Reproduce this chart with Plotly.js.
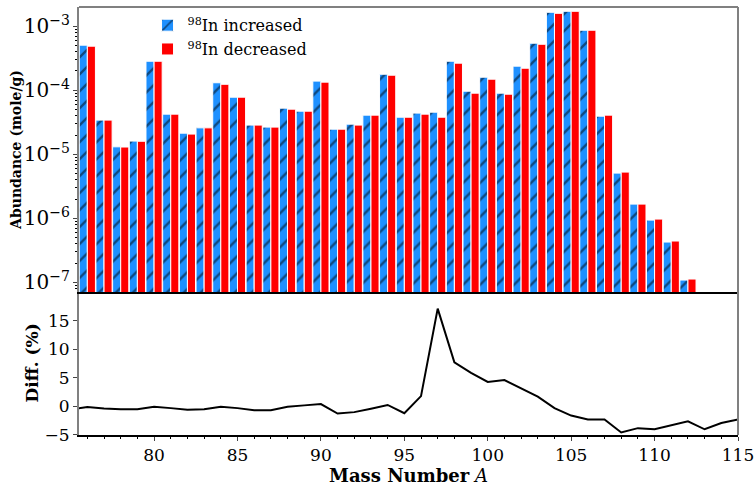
<!DOCTYPE html>
<html>
<head>
<meta charset="utf-8">
<script src="https://cdn.plot.ly/plotly-3.0.1.min.js"></script>
<style>html,body{margin:0;padding:0;background:#fff;}#chart{width:756px;height:488px;}</style>
</head>
<body>
<div id="chart"></div>
<script>
// Mass numbers for the bar pairs
const massNumbers = [76,77,78,79,80,81,82,83,84,85,86,87,88,89,90,91,92,93,94,95,96,97,98,99,100,101,102,103,104,105,106,107,108,109,110,111,112];
// Abundance (mole/g) with 98In increased
const abundIncreased = [5.06e-4,3.42e-5,1.31e-5,1.61e-5,2.84e-4,4.24e-5,2.14e-5,2.59e-5,1.31e-4,7.8e-5,2.86e-5,2.66e-5,5.26e-5,4.72e-5,1.39e-4,2.47e-5,2.96e-5,4.09e-5,1.78e-4,3.8e-5,4.4e-5,4.55e-5,2.84e-4,9.68e-5,1.60e-4,9.01e-5,2.38e-4,5.43e-4,1.65e-3,1.71e-3,8.66e-4,3.94e-5,5.09e-6,1.67e-6,9.4e-7,4.27e-7,1.09e-7];
// Abundance (mole/g) with 98In decreased
const abundDecreased = [4.88e-4,3.42e-5,1.30e-5,1.60e-5,2.84e-4,4.24e-5,2.07e-5,2.59e-5,1.24e-4,7.8e-5,2.86e-5,2.66e-5,5.07e-5,4.72e-5,1.34e-4,2.47e-5,2.86e-5,4.09e-5,1.72e-4,3.8e-5,4.24e-5,3.8e-5,2.65e-4,9.01e-5,1.49e-4,8.69e-5,2.21e-4,5.23e-4,1.59e-3,1.71e-3,8.66e-4,4.09e-5,5.28e-6,1.67e-6,9.75e-7,4.43e-7,1.13e-7];
// Relative difference (%)
const diffMass = [75,76,77,78,79,80,81,82,83,84,85,86,87,88,89,90,91,92,93,94,95,96,97,98,99,100,101,102,103,104,105,106,107,108,109,110,111,112,113,114,115];
const diffPct = [-0.55,-0.12,-0.35,-0.5,-0.5,-0.05,-0.3,-0.6,-0.5,-0.05,-0.3,-0.65,-0.65,-0.05,0.18,0.4,-1.25,-1.0,-0.4,0.25,-1.2,1.8,17.1,7.7,5.85,4.27,4.6,3.2,1.7,-0.3,-1.6,-2.3,-2.3,-4.55,-3.8,-4.0,-3.3,-2.6,-4.0,-2.9,-2.3];
// Labels
const seriesNames = ['<sup>98</sup>In increased', '<sup>98</sup>In decreased'];
const yTitleTop = '<b>Abundance (mole/g)</b>';
const yTitleBottom = '<b>Diff. (%)</b>';
const xTitle = '<b>Mass Number</b> <i>A</i>';

const FONT = 'DejaVu Serif';
const traces = [
  {type:'bar', x:massNumbers, y:abundIncreased, xaxis:'x2', yaxis:'y2',
   name:seriesNames[0],
   marker:{color:'#1e90ff', line:{color:'white', width:1},
           pattern:{shape:'/', fgcolor:'black', bgcolor:'#1e90ff', size:12, solidity:0.2, fillmode:'overlay'}}},
  {type:'bar', x:massNumbers, y:abundDecreased, xaxis:'x2', yaxis:'y2',
   name:seriesNames[1],
   marker:{color:'#ff0000', line:{color:'white', width:1}}},
  {type:'scatter', mode:'lines', x:diffMass, y:diffPct, xaxis:'x', yaxis:'y',
   line:{color:'black', width:2}, showlegend:false}
];

const split = 0.334;
const layout = {
  width:756, height:488,
  margin:{l:79, r:18, t:7, b:53},
  paper_bgcolor:'white', plot_bgcolor:'white',
  font:{family:FONT, color:'black', size:17},
  barmode:'group', bargap:0.03, bargroupgap:0,
  showlegend:true,
  legend:{x:0.104, y:0.997, xanchor:'left', yanchor:'top', bgcolor:'rgba(0,0,0,0)',
          font:{family:FONT, size:16}, tracegroupgap:0},
  xaxis:{domain:[0,1], anchor:'y', range:[75.5,115], tick0:80, dtick:5,
         showline:true, linecolor:'black', linewidth:1.5, ticks:'outside', ticklen:4,
         minor:{dtick:1, ticks:'outside', ticklen:2.5, tickcolor:'black'},
         showgrid:false, zeroline:false, tickfont:{size:17},
         title:{text:xTitle, font:{size:18}, standoff:4}},
  yaxis:{domain:[0,split], anchor:'x', range:[-5,20], tickvals:[-5,0,5,10,15],
         ticktext:['\u22125','0','5','10','15'],
         showline:true, linecolor:'#808080', linewidth:2, ticks:'outside', ticklen:4,
         showgrid:false, zeroline:false, tickfont:{size:17}},
  xaxis2:{domain:[0,1], anchor:'y2', matches:'x', range:[75.5,115],
          showticklabels:false, ticks:'', showgrid:false, zeroline:false,
          showline:true, linecolor:'black', linewidth:1.5},
  yaxis2:{domain:[split,1], anchor:'x2', type:'log', range:[-7.15,-2.70],
          dtick:1, exponentformat:'power', showexponent:'all',
          showline:true, linecolor:'#808080', linewidth:2, ticks:'outside', ticklen:4,
          minor:{ticks:'outside', ticklen:2, tickcolor:'black', dtick:'D1'},
          showgrid:false, zeroline:false, tickfont:{size:16}},
  annotations:[
    {text:yTitleTop, xref:'paper', yref:'paper', x:0, y:0.666, xshift:-63,
     xanchor:'center', yanchor:'middle', textangle:-90, showarrow:false, font:{size:14}},
    {text:yTitleBottom, xref:'paper', yref:'paper', x:0, y:0.167, xshift:-47,
     xanchor:'center', yanchor:'middle', textangle:-90, showarrow:false, font:{size:17}}
  ],
  shapes:[
    {type:'line', xref:'paper', yref:'paper', x0:0, x1:1, y0:1, y1:1, line:{color:'#808080', width:2}},
    {type:'line', xref:'paper', yref:'paper', x0:1, x1:1, y0:0, y1:1, line:{color:'#808080', width:2}}
  ]
};

Plotly.newPlot('chart', traces, layout, {staticPlot:true, displayModeBar:false});
</script>
</body>
</html>
